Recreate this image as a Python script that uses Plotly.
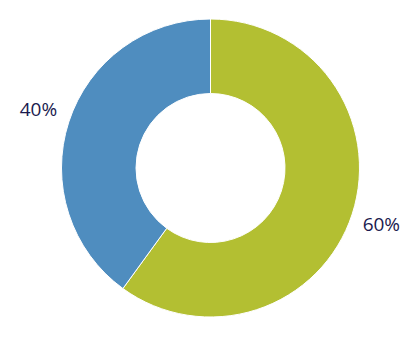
import plotly.graph_objects as go

labels = ["A", "B"]
values = [60, 40]
colors = ["#b3bf32", "#4f8dbf"]
spacer = "<span style='font-size:10px'>\u00a0</span>"
text_formats = [spacer + "<br>%{percent:.0%}", "%{percent:.0%}<br>" + "<span style='font-size:6px'>\u00a0</span>"]

fig = go.Figure(go.Pie(
    labels=labels,
    values=values,
    hole=0.5,
    sort=False,
    direction="clockwise",
    rotation=0,
    marker=dict(colors=colors, line=dict(color="white", width=1)),
    textinfo="percent",
    textposition="outside",
    texttemplate=text_formats,
    textfont=dict(family="Open Sans", size=19, color="#1a1a4e"),
    showlegend=False,
))
fig.update_layout(
    width=420, height=340,
    margin=dict(l=0, r=2, t=19, b=23),
    paper_bgcolor="white",
)
fig.write_html("out.html")
